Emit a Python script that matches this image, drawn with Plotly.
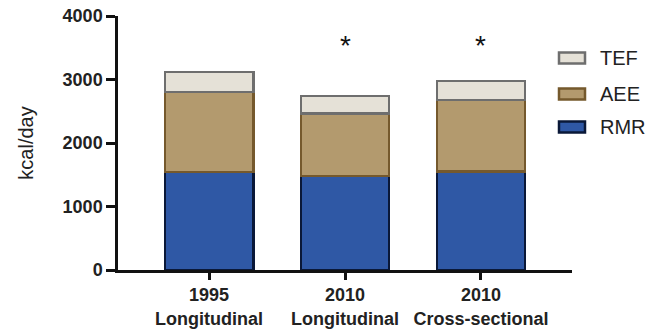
import plotly.graph_objects as go

categories = ["1995<br>Longitudinal", "2010<br>Longitudinal", "2010<br>Cross-sectional"]
rmr = [1540, 1480, 1550]
aee = [1260, 985, 1130]
tef = [320, 275, 300]
significant = [False, True, True]
star_y = 3530

series = [
    ("RMR", rmr, "#2F58A5", "#0A1838"),
    ("AEE", aee, "#B39A6E", "#75592D"),
    ("TEF", tef, "#E5E1D7", "#6E6E6E"),
]

fig = go.Figure()
for name, vals, fill, edge in series:
    fig.add_trace(go.Bar(
        x=list(range(len(categories))), y=vals, name=name,
        marker=dict(color=fill, line=dict(color=edge, width=2.5)),
        width=0.65, showlegend=False,
    ))

for i, sig in enumerate(significant):
    if sig:
        fig.add_annotation(x=i, y=star_y, text="*", showarrow=False,
                           font=dict(size=28, color="#111", family="Arial"),
                           yanchor="middle")

# Hand-drawn legend on the right: wide swatches, TEF on top
plot_left, plot_right, plot_top, plot_bottom = 118, 572, 16, 270
pw, ph = plot_right - plot_left, plot_bottom - plot_top
def px(x):
    return (x - plot_left) / pw
def py(y):
    return (plot_bottom - y) / ph

legend_rows = [("TEF", 58), ("AEE", 94), ("RMR", 127)]
style = {name: (fill, edge) for name, _, fill, edge in series}
for name, yc in legend_rows:
    fill, edge = style[name]
    fig.add_shape(type="rect", xref="paper", yref="paper",
                  x0=px(559), x1=px(585), y0=py(yc + 5.5), y1=py(yc - 5.5),
                  fillcolor=fill, line=dict(color=edge, width=2.5))
    fig.add_annotation(xref="paper", yref="paper", x=px(598), y=py(yc),
                       text=name, showarrow=False, xanchor="left", yanchor="middle",
                       font=dict(size=20, color="#222", family="Liberation Sans Narrow, Arial"))

fig.update_layout(
    barmode="stack",
    width=646, height=331,
    margin=dict(l=plot_left, r=646 - plot_right, t=plot_top, b=331 - plot_bottom),
    plot_bgcolor="white", paper_bgcolor="white",
    font=dict(family="Liberation Sans, Arial", color="#111"),
    showlegend=False,
)
fig.update_xaxes(
    tickmode="array", tickvals=list(range(len(categories))), ticktext=categories,
    range=[-0.67, 2.67], showline=True, linecolor="#111", linewidth=2.5,
    ticks="outside", ticklen=7, tickwidth=2.5, tickcolor="#111",
    tickfont=dict(size=18, weight="bold", color="#222"),
    showgrid=False, zeroline=False, automargin=False,
)
fig.update_yaxes(
    range=[0, 4000], tickvals=[0, 1000, 2000, 3000, 4000],
    showline=True, linecolor="#111", linewidth=2.5,
    ticks="outside", ticklen=9, tickwidth=2.5, tickcolor="#111",
    tickfont=dict(size=18, weight="bold", color="#222"),
    showgrid=False, zeroline=False, automargin=False,
    title=dict(text="kcal/day", font=dict(size=20, color="#222"), standoff=24),
)

fig.write_html("out.html")
